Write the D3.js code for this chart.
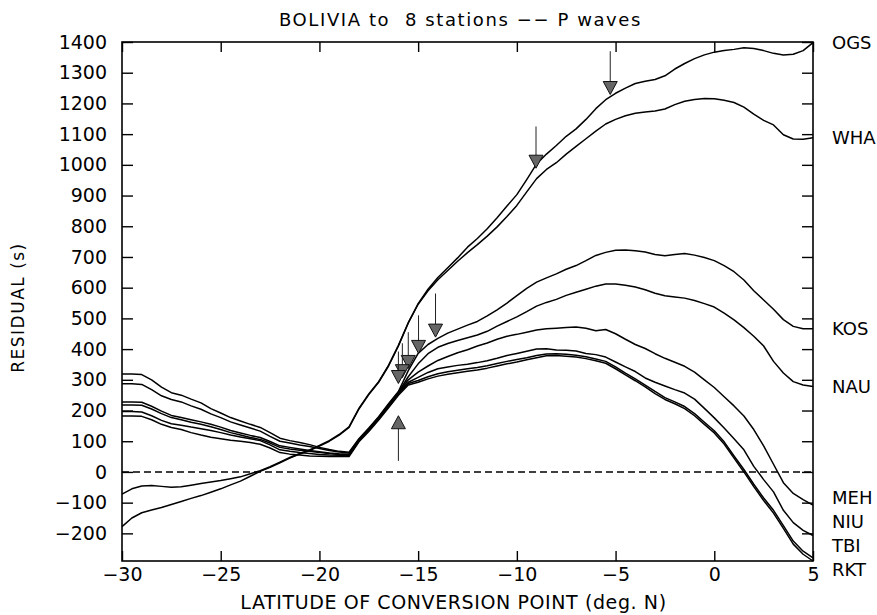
<!DOCTYPE html>
<html>
<head>
<meta charset="utf-8">
<script src="https://cdn.jsdelivr.net/npm/d3@7"></script>
<style>
    body { margin: 0; background: #fff; }
    text { font-family: "DejaVu Sans", sans-serif; fill: #000; }
</style>
</head>
<body>
<div id="chart"></div>
<script>
// latitude of conversion point (deg. N), shared by every station
const latitudes = [-30, -29.5, -29, -28.5, -28, -27.5, -27, -26.5, -26, -25.5, -25, -24.5, -24, -23.5, -23, -22.5,
    -22, -21.5, -21, -20.5, -20, -19.5, -19, -18.5, -18, -17.5, -17, -16.5, -16, -15.5, -15, -14.5,
    -14, -13.5, -13, -12.5, -12, -11.5, -11, -10.5, -10, -9.5, -9, -8.5, -8, -7.5, -7, -6.5,
    -6, -5.5, -5, -4.5, -4, -3.5, -3, -2.5, -2, -1.5, -1, -0.5, 0, 0.5, 1, 1.5, 2, 2.5, 3, 3.5, 4, 4.5, 5];

const stations = ["OGS", "WHA", "KOS", "NAU", "MEH", "NIU", "TBI", "RKT"];

// residuals (s)
const ogs = [-178, -150, -133, -124, -116, -106, -96, -86, -77, -66, -55, -42, -30, -14, 2, 15,
    30, 45, 58, 70, 84, 100, 120, 145, 205, 252, 292, 345, 410, 485, 548, 595,
    633, 665, 697, 732, 760, 792, 828, 866, 903, 952, 1003, 1035, 1063, 1093, 1117, 1148,
    1183, 1212, 1233, 1250, 1265, 1272, 1278, 1290, 1312, 1330, 1346, 1358, 1367, 1372, 1376, 1381, 1379, 1372, 1363, 1358, 1360, 1372, 1398];
const wha = [-72, -55, -46, -44, -47, -50, -48, -43, -38, -33, -28, -22, -16, -6, 4, 17,
    32, 47, 60, 72, 86, 102, 122, 147, 207, 254, 294, 347, 412, 486, 546, 590,
    626, 656, 686, 714, 740, 768, 798, 832, 868, 912, 955, 985, 1007, 1035, 1060, 1085,
    1110, 1133, 1148, 1160, 1168, 1172, 1175, 1182, 1196, 1207, 1213, 1216, 1215, 1210, 1203, 1188, 1165, 1145, 1130, 1098, 1084, 1083, 1088];
const kos = [319, 319, 317, 300, 276, 258, 250, 237, 225, 206, 192, 177, 166, 155, 145, 128,
    110, 102, 96, 89, 80, 73, 67, 64, 108, 143, 180, 222, 262, 330, 386, 415,
    435, 452, 465, 478, 490, 508, 528, 550, 574, 598, 618, 632, 645, 660, 672, 688,
    705, 715, 722, 723, 720, 716, 708, 704, 708, 711, 706, 698, 688, 672, 652, 625, 590, 560, 530, 496, 474, 466, 466];
const nau = [287, 287, 285, 268, 248, 236, 228, 215, 204, 189, 177, 163, 153, 143, 133, 116,
    100, 94, 88, 83, 76, 70, 65, 62, 106, 141, 178, 220, 260, 310, 352, 385,
    406, 418, 428, 437, 446, 458, 475, 490, 505, 522, 540, 552, 562, 575, 585, 595,
    605, 612, 612, 608, 602, 593, 582, 574, 570, 566, 558, 548, 537, 517, 495, 470, 442, 410, 360, 322, 294, 283, 278];
const meh = [228, 228, 227, 214, 198, 184, 177, 170, 163, 155, 146, 135, 127, 119, 112, 99,
    85, 80, 75, 70, 66, 62, 59, 58, 104, 139, 176, 218, 258, 300, 325, 345,
    363, 376, 388, 398, 410, 420, 432, 442, 448, 455, 462, 466, 468, 470, 472, 468,
    460, 464, 450, 432, 415, 402, 385, 370, 357, 344, 325, 300, 275, 245, 215, 182, 138, 85, 25, -35, -70, -90, -108];
const niu = [218, 218, 217, 205, 190, 177, 170, 162, 155, 147, 138, 128, 120, 112, 106, 94,
    80, 75, 71, 67, 63, 60, 57, 56, 102, 137, 174, 215, 256, 292, 308, 324,
    336, 342, 347, 351, 356, 362, 370, 379, 386, 393, 400, 401, 397, 396, 394, 386,
    382, 374, 358, 342, 327, 306, 292, 280, 268, 257, 237, 207, 176, 143, 108, 72, 18, -25, -65, -125, -165, -190, -207];
const tbi = [197, 197, 195, 183, 168, 157, 152, 146, 141, 135, 128, 120, 114, 108, 102, 88,
    72, 67, 63, 60, 57, 55, 54, 54, 100, 135, 172, 212, 254, 288, 298, 310,
    320, 326, 331, 336, 340, 346, 353, 360, 366, 372, 379, 384, 385, 383, 380, 375,
    368, 360, 342, 322, 303, 283, 262, 242, 228, 213, 190, 162, 134, 98, 52, 8, -40, -85, -125, -175, -225, -258, -280];
const rkt = [182, 182, 181, 170, 155, 145, 138, 128, 120, 113, 108, 103, 100, 96, 90, 78,
    63, 58, 55, 52, 51, 50, 50, 50, 98, 132, 169, 209, 250, 283, 292, 303,
    312, 318, 323, 328, 332, 338, 345, 352, 358, 365, 372, 378, 379, 377, 374, 369,
    362, 354, 336, 316, 297, 277, 255, 236, 222, 206, 183, 155, 127, 91, 45, 0, -48, -93, -134, -184, -235, -268, -290];

const residuals = [ogs, wha, kos, nau, meh, niu, tbi, rkt];

// arrows: latitude, tail value, tip value
const arrowLat = [-5.27, -9.03, -14.12, -14.98, -15.5, -15.8, -16.0, -16.0];
const arrowFrom = [1370, 1125, 581, 510, 455, 419, 392, 36];
const arrowTo = [1229, 989, 439, 386, 337, 307, 288, 183];

const xTicks = [-30, -25, -20, -15, -10, -5, 0, 5];
const yTicks = [-200, -100, 0, 100, 200, 300, 400, 500, 600, 700, 800, 900, 1000, 1100, 1200, 1300, 1400];

const WIDTH = 877,
    HEIGHT = 615;

const margins = {
    top: 42,
    left: 122,
    bottom: 54,
    right: 64
};

const width = WIDTH - margins.left - margins.right,
    height = HEIGHT - margins.top - margins.bottom;

const svg = d3.select("#chart")
    .append("svg")
    .attr("width", WIDTH)
    .attr("height", HEIGHT);

const plot = svg.append("g")
    .attr("transform", `translate(${margins.left}, ${margins.top})`);

const x = d3.scaleLinear().domain([-30, 5]).range([0, width]);
const y = d3.scaleLinear().domain([-290, 1400]).range([height, 0]);

// axes, ticks pointing inward
const styleAxis = (g) => {
    g.select(".domain").remove();
    g.selectAll(".tick line").attr("stroke", "#000").attr("stroke-width", 1.4);
    g.selectAll(".tick text")
        .attr("font-family", "DejaVu Sans, sans-serif")
        .attr("font-size", 19)
        .attr("fill", "#000");
};

plot.append("g")
    .call(d3.axisLeft(y).tickValues(yTicks).tickSize(-11).tickPadding(15).tickFormat(d3.format("d")))
    .call(styleAxis);

plot.append("g")
    .attr("transform", `translate(${width}, 0)`)
    .call(d3.axisRight(y).tickValues(yTicks).tickSize(-11).tickFormat(""))
    .call(styleAxis);

plot.append("g")
    .call(d3.axisTop(x).tickValues(xTicks).tickSize(-10).tickFormat(""))
    .call(styleAxis);

plot.append("g")
    .attr("transform", `translate(0, ${height})`)
    .call(d3.axisBottom(x).tickValues(xTicks).tickSize(-10).tickPadding(7).tickFormat(d3.format("d")))
    .call(styleAxis);

plot.append("rect")
    .attr("width", width)
    .attr("height", height)
    .attr("fill", "none")
    .attr("stroke", "#000")
    .attr("stroke-width", 1.6);

// zero line
plot.append("line")
    .attr("x1", x(-30))
    .attr("x2", x(5))
    .attr("y1", y(0))
    .attr("y2", y(0))
    .attr("stroke", "#000")
    .attr("stroke-width", 1.4)
    .attr("stroke-dasharray", "7,4");

// station curves
const drawLine = d3.line()
    .x((d, i) => x(latitudes[i]))
    .y(d => y(d));

plot.append("g")
    .selectAll("path")
    .data(residuals)
    .join("path")
    .attr("d", d => drawLine(d))
    .attr("fill", "none")
    .attr("stroke", "#000")
    .attr("stroke-width", 1.5)
    .attr("stroke-linejoin", "round");

// arrows
const arrows = plot.append("g");
arrowLat.forEach((lat, i) => {
    const ax = x(lat),
        y0 = y(arrowFrom[i]),
        y1 = y(arrowTo[i]);
    const dir = y1 > y0 ? 1 : -1;
    arrows.append("line")
        .attr("x1", ax).attr("x2", ax)
        .attr("y1", y0).attr("y2", y1 - dir * 6)
        .attr("stroke", "#222")
        .attr("stroke-width", 1);
    arrows.append("path")
        .attr("d", `M${ax},${y1} L${ax - 7},${y1 - dir * 13} L${ax + 7},${y1 - dir * 13} Z`)
        .attr("fill", "#666")
        .attr("stroke", "#111")
        .attr("stroke-width", 1);
});

// station labels at the right, pushed apart where they crowd
const labelGap = 24,
    labelMax = height + 9;
const labels = stations.map((s, i) => ({ name: s, pos: y(residuals[i][residuals[i].length - 1]) }))
    .sort((a, b) => a.pos - b.pos);
for (let i = 1; i < labels.length; i++) {
    labels[i].pos = Math.max(labels[i].pos, labels[i - 1].pos + labelGap);
}
labels[labels.length - 1].pos = Math.min(labels[labels.length - 1].pos, labelMax);
for (let i = labels.length - 2; i >= 0; i--) {
    labels[i].pos = Math.min(labels[i].pos, labels[i + 1].pos - labelGap);
}

plot.append("g")
    .selectAll("text")
    .data(labels)
    .join("text")
    .attr("x", width + 19)
    .attr("y", d => d.pos)
    .attr("dy", "0.36em")
    .attr("font-size", 18)
    .text(d => d.name);

// titles
svg.append("text")
    .attr("x", margins.left + width / 2 - 7)
    .attr("y", 26)
    .attr("text-anchor", "middle")
    .attr("font-size", 18)
    .attr("letter-spacing", 1.6)
    .attr("xml:space", "preserve")
    .style("white-space", "pre")
    .text("BOLIVIA to  8 stations \u2212\u2212 P waves");

svg.append("text")
    .attr("x", margins.left + width / 2 - 14)
    .attr("y", 609)
    .attr("text-anchor", "middle")
    .attr("font-size", 19)
    .attr("letter-spacing", 0.6)
    .text("LATITUDE OF CONVERSION POINT (deg. N)");

svg.append("text")
    .attr("transform", `translate(24, ${margins.top + height / 2 + 6}) rotate(-90)`)
    .attr("text-anchor", "middle")
    .attr("font-size", 17)
    .attr("letter-spacing", 1.5)
    .text("RESIDUAL (s)");
</script>
</body>
</html>
